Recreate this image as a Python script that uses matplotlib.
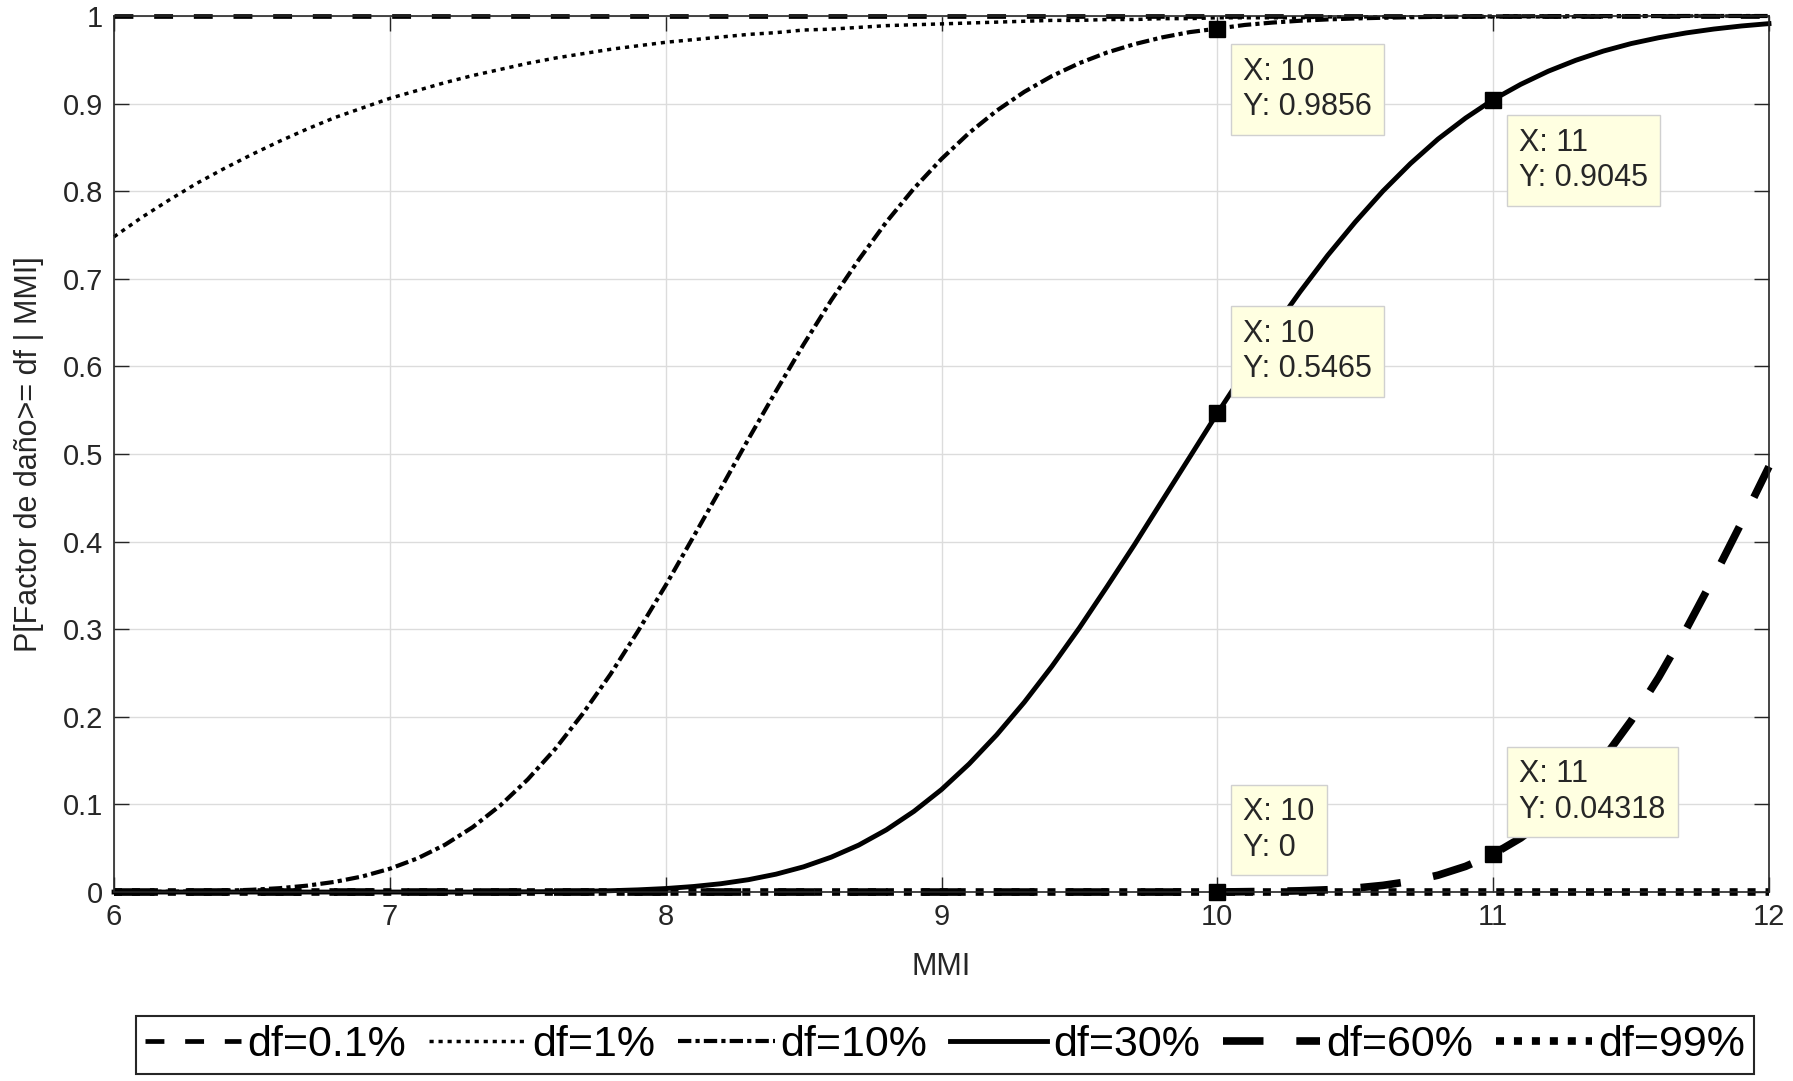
import numpy as np
import matplotlib
matplotlib.use("Agg")
import matplotlib.pyplot as plt
from matplotlib.ticker import FuncFormatter

plt.rcParams['font.family'] = ['Liberation Sans', 'DejaVu Sans']

# MMI grid, 6.0 .. 12.0 every 0.1
mmi = np.linspace(6, 12, 61)

# P[damage factor >= df | MMI] for each damage level
p_df01 = [1.0] * 61

p_df1 = [0.748, 0.770, 0.790, 0.809, 0.826, 0.842, 0.857, 0.871, 0.884, 0.895,
         0.906, 0.915, 0.924, 0.932, 0.939, 0.946, 0.952, 0.957, 0.962, 0.966,
         0.970, 0.973, 0.976, 0.979, 0.981, 0.984, 0.985, 0.987, 0.989, 0.990,
         0.991, 0.992, 0.993, 0.994, 0.995, 0.995, 0.996, 0.996, 0.997, 0.997,
         0.998, 0.998, 0.998, 0.998, 0.999, 0.999, 0.999, 0.999, 0.999, 0.999,
         0.999, 0.999, 0.999, 0.999, 0.999, 1.0, 1.0, 1.0, 1.0, 1.0, 1.0]

p_df10 = [0.0001, 0.0002, 0.0004, 0.0008, 0.0015, 0.0026, 0.0044, 0.0073, 0.0116, 0.0178,
          0.0266, 0.0384, 0.0540, 0.0740, 0.0987, 0.1286, 0.1635, 0.2038, 0.2487, 0.2980,
          0.3501, 0.4052, 0.4607, 0.5171, 0.5718, 0.6251, 0.6754, 0.7218, 0.7648, 0.8031,
          0.8368, 0.8665, 0.8919, 0.9134, 0.9314, 0.9462, 0.9583, 0.9679, 0.9756, 0.9816,
          0.9856, 0.9898, 0.9925, 0.9946, 0.9961, 0.9972, 0.9980, 0.9986, 0.9990, 0.9993,
          0.9995, 0.9997, 0.9998, 0.9998, 0.9999, 0.9999, 0.9999, 1.0, 1.0, 1.0, 1.0]

p_df30 = [0.0] * 15 + [
          0.0003, 0.0005, 0.0009, 0.0015, 0.0025,
          0.0040, 0.0063, 0.0095, 0.0141, 0.0204, 0.0288, 0.0398, 0.0536, 0.0710, 0.0921,
          0.1170, 0.1462, 0.1794, 0.2166, 0.2575, 0.3016, 0.3486, 0.3967, 0.4467, 0.4965,
          0.5465, 0.5945, 0.6413, 0.6852, 0.7267, 0.7648, 0.8000, 0.8315, 0.8595, 0.8835,
          0.9045, 0.9220, 0.9370, 0.9495, 0.9600, 0.9685, 0.9752, 0.9807, 0.9851, 0.9886,
          0.9913]

p_df60 = [0.0] * 41 + [
          0.0004, 0.0008, 0.0014, 0.0026, 0.0045, 0.0076, 0.0122, 0.0192, 0.0293,
          0.04318, 0.0617, 0.0856, 0.1158, 0.1524, 0.1954, 0.2451, 0.3001, 0.3594, 0.4215,
          0.4856]

p_df99 = [0.0] * 61

labels = ['df=0.1%', 'df=1%', 'df=10%', 'df=30%', 'df=60%', 'df=99%']
curves = [p_df01, p_df1, p_df10, p_df30, p_df60, p_df99]

# data cursors
tip_x = [10, 11, 10, 11, 10]
tip_y = [0.9856, 0.9045, 0.5465, 0.04318, 0]
tip_below = [True, True, False, False, False]

styles = [
    dict(ls=(0, (4.0, 4.4)), lw=3.4),
    dict(ls=(0, (1.2, 1.4)), lw=2.5),
    dict(ls=(0, (3.2, 1.0, 1.0, 1.0)), lw=3.0),
    dict(ls='-', lw=3.5),
    dict(ls=(0, (5.3, 4.3)), lw=5.5),
    dict(ls=(0, (1.05, 1.3)), lw=5.5),
]

fig = plt.figure(figsize=(17.93, 10.81), dpi=100)
ax = fig.add_axes([0.0636, 0.1748, 0.923, 0.8104])

handles = []
for y, lab, st in zip(curves, labels, styles):
    h, = ax.plot(mmi, y, color='k', label=lab, clip_on=False, **st)
    handles.append(h)

ax.set_xlim(6, 12)
ax.set_ylim(0, 1)
ax.set_xticks(range(6, 13))
ax.set_yticks(np.arange(0, 1.01, 0.1))
ax.yaxis.set_major_formatter(FuncFormatter(lambda v, _: f'{v:g}'))
ax.grid(True, color='#dcdcdc', lw=1.0)
ax.set_axisbelow(True)
ax.tick_params(direction='in', length=11, width=1, top=True, right=True,
               labelsize=21, colors='#262626', pad=8)
for sp in ax.spines.values():
    sp.set_color('#262626')
    sp.set_linewidth(1.2)

ax.set_xlabel('MMI', fontsize=22, color='#262626', labelpad=15)
ax.set_ylabel('P[Factor de daño>= df | MMI]', fontsize=22, color='#262626', labelpad=13)

# data tip markers and boxes
ax.plot(tip_x, tip_y, 's', color='k', ms=12, clip_on=False, zorder=5)
for x, y, below in zip(tip_x, tip_y, tip_below):
    off = (26, -28) if below else (26, 29)
    ax.annotate(f'X: {x:g}\nY: {y:g}', (x, y), xytext=off, textcoords='offset pixels',
                ha='left', va='top' if below else 'bottom', fontsize=22,
                color='#262626', linespacing=1.25, zorder=6,
                bbox=dict(boxstyle='square,pad=0.4', fc='#ffffe1', ec='#d0d0d0', lw=1))

leg = fig.legend(handles, labels, loc='center', bbox_to_anchor=(0.527, 0.0333), ncol=6,
                 fontsize=31, frameon=True, fancybox=False, edgecolor='#262626',
                 framealpha=1, handlelength=2.25, handletextpad=0.14, columnspacing=0.53,
                 borderpad=0.2)
leg.get_frame().set_linewidth(1.5)

fig.savefig('out.png', dpi=100)
